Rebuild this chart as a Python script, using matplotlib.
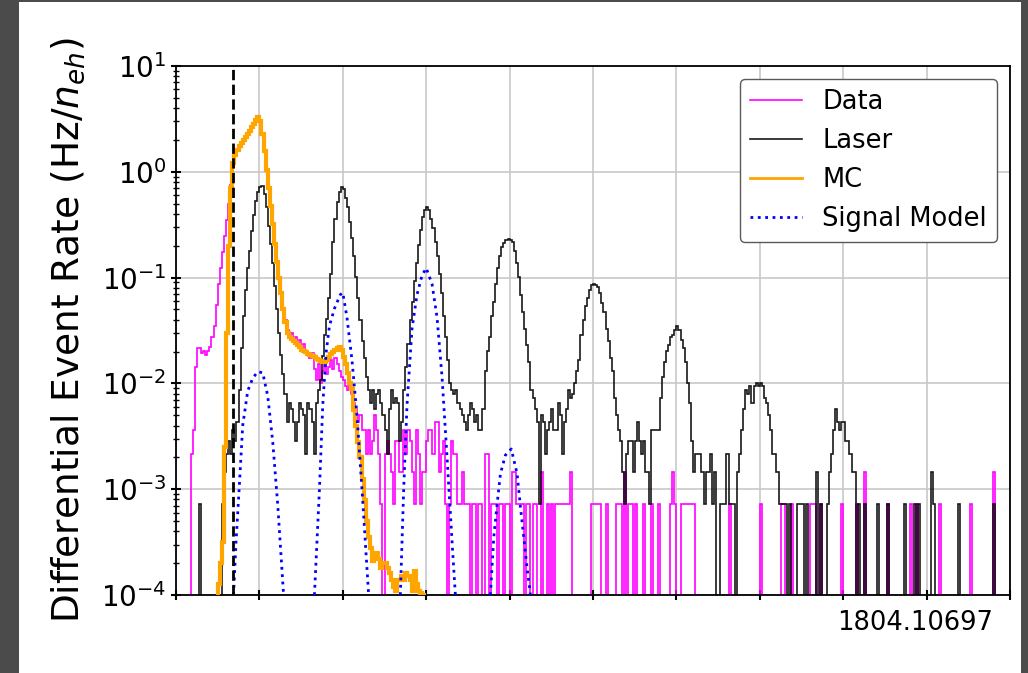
import numpy as np
import matplotlib.pyplot as plt
from matplotlib.patches import Rectangle

# histogram binning, x in units of n_eh
bin_width = 0.025
edges = np.linspace(0, 10, 401)
rate_per_count = 7.2e-4   # Hz/n_eh for one event in a bin

# Data counts per bin (40 bins per unit of x)
data_counts = [
    0, 0, 0, 0, 0, 0, 0, 3, 5, 20, 30, 30, 27, 28, 26, 28, 31, 38, 48, 77,
    120, 172, 245, 344, 485, 686, 1040, 1540, 1980, 2270, 2450, 2650, 2800, 3000, 3200, 3450, 3700, 4000, 4300, 4500,
    4140, 3140, 2160, 1440, 970, 640, 440, 290, 190, 135, 97, 70, 55, 44, 40, 42, 36, 38, 33, 36,
    30, 33, 28, 26, 24, 27, 19, 15, 21, 14, 18, 22, 17, 20, 23, 19, 24, 21, 18, 16,
    15, 13, 12, 14, 11, 9, 8, 6, 7, 5, 5, 3, 5, 3, 4, 7, 5, 3, 1, 0,
    3, 4, 3, 2, 1, 4, 4, 2, 2, 5, 3, 5, 4, 2, 1, 5, 3, 1, 2, 2,
    4, 5, 5, 3, 6, 6, 2, 3, 4, 1, 0, 1, 4, 3, 3, 1, 1, 2, 1, 1,
    1, 0, 1, 1, 0, 1, 1, 0, 3, 3, 0, 1, 1, 1, 0, 1, 1, 0, 1, 1,
    0, 2, 2, 1, 1, 1, 1, 0, 1, 1, 0, 1, 1, 0, 0, 2, 0, 0, 1, 0,
    1, 0, 1, 1, 1, 1, 1, 1, 1, 2, 0, 0, 0, 0, 0, 0, 0, 0, 0, 1,
    1, 1, 1, 1, 0, 0, 1, 0, 0, 0, 0, 1, 1, 1, 0, 2, 0, 1, 1, 0,
    1, 0, 0, 0, 1, 0, 0, 0, 1, 0, 0, 1, 0, 0, 0, 0, 0, 1, 2, 1,
    0, 0, 1, 1, 1, 1, 1, 1, 1, 0, 0, 0, 0, 0, 0, 0, 0, 0, 0, 0,
    0, 0, 0, 0, 0, 1, 0, 0, 0, 0, 0, 0, 0, 0, 0, 0, 0, 0, 0, 0,
    1, 0, 0, 0, 0, 0, 0, 0, 0, 0, 1, 1, 0, 0, 0, 1, 0, 0, 0, 0,
    0, 0, 0, 0, 1, 1, 1, 0, 0, 1, 0, 0, 0, 0, 0, 0, 0, 0, 0, 1,
    0, 0, 0, 0, 0, 0, 1, 0, 0, 0, 2, 0, 0, 0, 0, 0, 0, 0, 0, 0,
    0, 1, 0, 0, 0, 0, 0, 0, 0, 0, 0, 0, 1, 0, 0, 1, 0, 0, 0, 0,
    0, 0, 0, 0, 0, 0, 1, 0, 0, 0, 0, 0, 0, 0, 0, 0, 0, 0, 0, 0,
    0, 1, 0, 0, 0, 0, 0, 0, 0, 0, 0, 0, 2, 0, 0, 0, 0, 0, 0, 0,
]

# Laser counts per bin
laser_counts = [
    0, 0, 0, 0, 0, 0, 0, 0, 0, 0, 0, 1, 0, 0, 0, 0, 0, 0, 0, 0,
    0, 0, 1, 2, 3, 4, 3, 5, 4, 6, 12, 30, 60, 105, 170, 250, 380, 540, 740, 900,
    1000, 1010, 850, 640, 430, 290, 190, 115, 70, 42, 26, 17, 11, 6, 9, 8, 6, 4, 6, 9,
    8, 7, 3, 9, 8, 6, 3, 9, 12, 15, 25, 40, 57, 90, 150, 300, 500, 720, 900, 1000,
    950, 780, 640, 470, 330, 220, 140, 90, 55, 35, 24, 16, 12, 9, 12, 8, 11, 12, 9, 7,
    5, 3, 8, 12, 9, 10, 9, 4, 6, 12, 20, 33, 55, 82, 130, 190, 280, 390, 520, 600,
    640, 600, 500, 410, 300, 220, 150, 100, 60, 38, 23, 14, 12, 11, 12, 9, 8, 7, 6, 5,
    7, 9, 8, 6, 7, 5, 5, 8, 18, 28, 38, 60, 82, 120, 172, 220, 270, 295, 315, 320,
    315, 300, 250, 190, 140, 95, 65, 45, 32, 22, 12, 10, 8, 6, 1, 7, 6, 3, 5, 6,
    8, 5, 5, 9, 7, 3, 6, 8, 12, 10, 11, 14, 18, 23, 40, 55, 75, 90, 105, 118,
    120, 118, 112, 100, 80, 65, 45, 35, 24, 18, 10, 7, 5, 4, 2, 1, 3, 4, 4, 2,
    4, 6, 4, 3, 4, 2, 2, 1, 5, 5, 5, 5, 10, 16, 22, 28, 32, 38, 40, 44,
    48, 44, 36, 30, 22, 14, 9, 4, 2, 3, 3, 3, 2, 1, 2, 2, 3, 1, 2, 0,
    0, 1, 1, 1, 3, 1, 1, 1, 0, 2, 3, 5, 8, 12, 11, 13, 9, 13, 14, 13,
    14, 13, 10, 9, 7, 5, 3, 3, 2, 1, 1, 1, 1, 0, 1, 0, 0, 0, 1, 1,
    1, 0, 1, 0, 0, 0, 0, 2, 0, 1, 0, 0, 1, 2, 3, 5, 8, 6, 5, 6,
    6, 4, 4, 3, 2, 2, 0, 1, 0, 0, 1, 0, 0, 0, 0, 0, 1, 0, 0, 0,
    0, 1, 0, 0, 0, 0, 0, 0, 0, 1, 0, 0, 0, 0, 1, 0, 1, 0, 0, 0,
    0, 0, 2, 1, 0, 0, 0, 0, 0, 0, 0, 0, 0, 0, 0, 1, 0, 0, 0, 0,
    0, 0, 0, 0, 0, 0, 0, 0, 0, 0, 0, 0, 1, 0, 0, 0, 0, 0, 0, 0,
]

# MC rate (Hz/n_eh), same binning, starting at x = 0.5
mc_start = 0.5
mc_rate = [
    1.26e-4, 2.0e-4, 3.2e-4, 2.5e-3, 0.03, 0.2, 0.7, 1.2, 1.45, 1.6,
    1.74, 1.86, 2.0, 2.14, 2.29, 2.45, 2.63, 2.82, 3.09, 3.31,
    3.02, 2.29, 1.58, 1.05, 0.71, 0.47, 0.32, 0.21, 0.14, 0.10,
    0.071, 0.05, 0.038, 0.030, 0.0275, 0.0263, 0.0251, 0.024, 0.0229, 0.0219,
    0.0209, 0.0204, 0.020, 0.019, 0.0186, 0.0182, 0.0178, 0.017, 0.0166, 0.0162,
    0.0158, 0.0158, 0.0166, 0.0178, 0.019, 0.020, 0.0209, 0.0214, 0.0219, 0.0209,
    0.0178, 0.0151, 0.0126, 0.010, 0.0089, 0.0056, 0.004, 0.0028, 0.002, 0.00126,
    7.9e-4, 5.0e-4, 3.5e-4, 2.8e-4, 2.1e-4, 2.4e-4, 2.5e-4, 2.2e-4, 1.8e-4, 2.0e-4,
    2.0e-4, 1.8e-4, 1.6e-4, 1.4e-4, 1.2e-4, 1.1e-4, 1.4e-4, 1.4e-4, 1.5e-4, 1.4e-4,
    1.6e-4, 1.5e-4, 1.4e-4, 1.1e-4, 1.7e-4, 1.26e-4, 1.1e-4, 1.05e-4, 1.0e-4,
]

# signal model peaks (nan separates the peaks)
sig_x = [0.69, 0.72, 0.76, 0.80, 0.86, 0.92, 0.98, 1.04, 1.10, 1.16, 1.22, 1.29, np.nan,
         1.66, 1.72, 1.76, 1.80, 1.84, 1.90, 1.97, 2.00, 2.05, 2.11, 2.17, 2.23, 2.31, np.nan,
         2.69, 2.73, 2.77, 2.83, 2.89, 2.95, 3.00, 3.07, 3.13, 3.19, 3.25, 3.31, 3.35, np.nan,
         3.77, 3.81, 3.85, 3.89, 3.95, 4.02, 4.09, 4.13, 4.17, 4.21, 4.25]
sig_y = [1e-4, 3.2e-4, 1.1e-3, 4.0e-3, 8.5e-3, 1.12e-2, 1.29e-2, 1.26e-2, 7.6e-3, 2.8e-3, 7.1e-4, 1e-4, np.nan,
         1e-4, 1.0e-3, 6.3e-3, 0.0195, 0.035, 0.051, 0.069, 0.072, 0.042, 0.0166, 5.0e-3, 1.0e-3, 1e-4, np.nan,
         1e-4, 1.0e-3, 6.3e-3, 0.033, 0.069, 0.105, 0.123, 0.087, 0.042, 0.0115, 2.0e-3, 3.2e-4, 1e-4, np.nan,
         1e-4, 3.5e-4, 7.2e-4, 1.4e-3, 2.1e-3, 2.4e-3, 1.4e-3, 6.8e-4, 3.5e-4, 1.8e-4, 1e-4]

threshold = 0.683

data_rate = np.array(data_counts) * rate_per_count
laser_rate = np.array(laser_counts) * rate_per_count
mc_edges = mc_start + bin_width * np.arange(len(mc_rate) + 1)

fig = plt.figure(figsize=(10.28, 6.73), dpi=100, facecolor='#4b4b4b')
fig.add_artist(Rectangle((19 / 1028, 0), 1002 / 1028, 671 / 673, transform=fig.transFigure,
                         facecolor='white', edgecolor='none', zorder=0))
ax = fig.add_axes([176 / 1028, 78 / 673, 834 / 1028, 529 / 673])

ax.stairs(data_rate, edges, color='magenta', lw=1.2, label='Data', zorder=2)
ax.stairs(laser_rate, edges, color='black', lw=1.2, alpha=0.9, label='Laser', zorder=3)
ax.stairs(mc_rate, mc_edges, color='orange', lw=3, label='MC', zorder=4)
ax.plot(sig_x, sig_y, color='blue', ls=':', lw=2, label='Signal Model', zorder=5)
ax.axvline(threshold, color='black', ls='--', lw=2, zorder=6)

ax.set_yscale('log')
ax.set_xlim(0, 10)
ax.set_ylim(1e-4, 1e1)
ax.set_xticks(np.arange(0, 11))
ax.set_xticklabels([])
ax.grid(True, which='major', color='#c8c8c8', lw=1.2)
ax.set_axisbelow(True)
ax.tick_params(which='major', direction='inout', length=7, width=1.5, labelsize=20)
ax.tick_params(which='minor', direction='inout', length=4, width=1)
for s in ax.spines.values():
    s.set_linewidth(1.3)

ax.set_ylabel('Differential Event Rate (Hz/$n_{eh}$)', fontsize=27, labelpad=10)

leg = ax.legend(loc='upper right', fontsize=18.5, framealpha=1, edgecolor='0.35')
leg.get_lines()[2].set_linewidth(2)

fig.text(993 / 1028, 50 / 673, '1804.10697', ha='right', va='center', fontsize=18.5)

plt.savefig('out.png', dpi=100, facecolor=fig.get_facecolor())
